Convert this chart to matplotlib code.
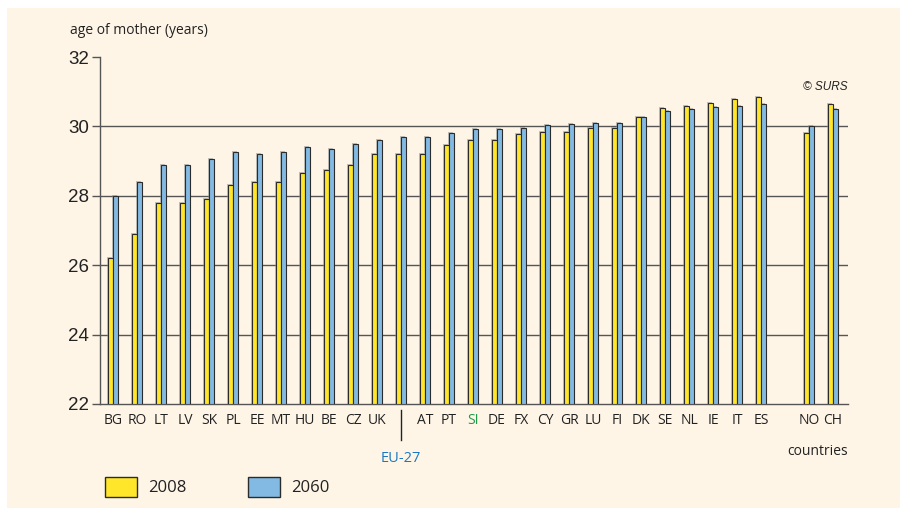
import numpy as np
import matplotlib.pyplot as plt
from matplotlib.patches import Rectangle
from matplotlib.transforms import blended_transform_factory

countries = ['BG', 'RO', 'LT', 'LV', 'SK', 'PL', 'EE', 'MT', 'HU', 'BE', 'CZ', 'UK',
             'EU-27', 'AT', 'PT', 'SI', 'DE', 'FX', 'CY', 'GR', 'LU', 'FI', 'DK', 'SE',
             'NL', 'IE', 'IT', 'ES', 'NO', 'CH']
age_2008 = [26.2, 26.9, 27.8, 27.8, 27.9, 28.3, 28.4, 28.4, 28.65, 28.75, 28.9, 29.2,
            29.2, 29.2, 29.45, 29.6, 29.6, 29.77, 29.84, 29.84, 29.95, 29.96, 30.26, 30.52,
            30.59, 30.67, 30.8, 30.86, 29.82, 30.64]
age_2060 = [28.0, 28.4, 28.9, 28.9, 29.05, 29.25, 29.2, 29.25, 29.4, 29.35, 29.5, 29.6,
            29.7, 29.7, 29.82, 29.92, 29.92, 29.95, 30.04, 30.06, 30.1, 30.09, 30.28, 30.45,
            30.49, 30.55, 30.6, 30.64, 30.0, 30.5]

# slot positions: NO and CH sit after a one-slot gap
pos = np.array(list(range(28)) + [29, 30], dtype=float)

YELLOW = '#ffe62b'
BLUE = '#83bae4'
CREAM = '#fef5e7'
EDGE = '#2b2b2b'
GRID = '#555555'

fig = plt.figure(figsize=(9.03, 5.08), dpi=100, facecolor='white')
fig.patches.append(Rectangle((7 / 903, 0), 1 - 10 / 903, 1 - 8 / 508, transform=fig.transFigure,
                             facecolor=CREAM, edgecolor='none', zorder=-10))

ax = fig.add_axes([100 / 903, 1 - 404 / 508, 748 / 903, 347 / 508])
ax.set_facecolor('none')

w = 0.2
base = 22
# soft shadows
ax.bar(pos - w / 2 - 0.05, np.array(age_2008) - base + 0.03, w, bottom=base,
       color='#888888', alpha=0.5, zorder=2)
ax.bar(pos + w / 2 - 0.05, np.array(age_2060) - base + 0.03, w, bottom=base,
       color='#888888', alpha=0.5, zorder=2)
ax.bar(pos - w / 2, np.array(age_2008) - base, w, bottom=base, color=YELLOW,
       edgecolor=EDGE, linewidth=0.8, zorder=3)
ax.bar(pos + w / 2, np.array(age_2060) - base, w, bottom=base, color=BLUE,
       edgecolor=EDGE, linewidth=0.8, zorder=3)

ax.set_xlim(-0.54, 30.62)
ax.set_ylim(22, 32)
ax.set_yticks([22, 24, 26, 28, 30, 32])
for y in [24, 26, 28, 30]:
    ax.axhline(y, color=GRID, linewidth=1.0, zorder=1)

for s in ['top', 'right']:
    ax.spines[s].set_visible(False)
ax.spines['left'].set_color(GRID)
ax.spines['bottom'].set_color(GRID)
ax.spines['left'].set_linewidth(1.0)
ax.spines['bottom'].set_linewidth(1.0)

ax.tick_params(axis='y', length=6, width=1.0, color=GRID, pad=2, labelsize=13.5,
               labelcolor='#222222')
for t in ax.get_yticklabels():
    t.set_fontfamily('Liberation Sans')

lab_idx = [i for i, c in enumerate(countries) if c != 'EU-27']
ax.set_xticks(pos[lab_idx])
ax.set_xticklabels([countries[i] for i in lab_idx], fontfamily='Open Sans', fontsize=10,
                   color='#222222')
ax.tick_params(axis='x', length=0, pad=6.5)
for t in ax.get_xticklabels():
    if t.get_text() == 'SI':
        t.set_color('#1f9a48')

# EU-27 marker below the axis
eu = pos[countries.index('EU-27')]
tr = blended_transform_factory(ax.transData, ax.transAxes)
ax.plot([eu, eu], [-0.017, -0.104], color='#222222', linewidth=1.0, transform=tr,
        clip_on=False)
ax.text(eu, -0.156, 'EU-27', transform=tr, ha='center', va='center', fontsize=10.5,
        fontfamily='Open Sans', color='#1a78c2')

ax.text(1.0, -0.138, 'countries', transform=ax.transAxes, ha='right', va='center',
        fontsize=10, fontfamily='Open Sans', color='#222222')
ax.text(1.0, 0.913, '© SURS', transform=ax.transAxes, ha='right', va='center',
        fontsize=8.5, fontstyle='italic', fontfamily='Liberation Sans', color='#222222')
fig.text(70 / 903, 1 - 30 / 508, 'age of mother (years)', ha='left', va='center',
         fontsize=10, fontfamily='Open Sans', color='#222222')

# legend drawn by hand
for x0, col, lab in [(105, YELLOW, '2008'), (248, BLUE, '2060')]:
    fig.patches.append(Rectangle((x0 / 903, 1 - 497 / 508), 32 / 903, 20 / 508,
                                 transform=fig.transFigure, facecolor=col,
                                 edgecolor=EDGE, linewidth=1.0))
    fig.text((x0 + 43) / 903, 1 - 488 / 508, lab, ha='left', va='center', fontsize=12,
             fontfamily='Open Sans', color='#222222')

fig.savefig('out.png', dpi=100, facecolor=fig.get_facecolor())
